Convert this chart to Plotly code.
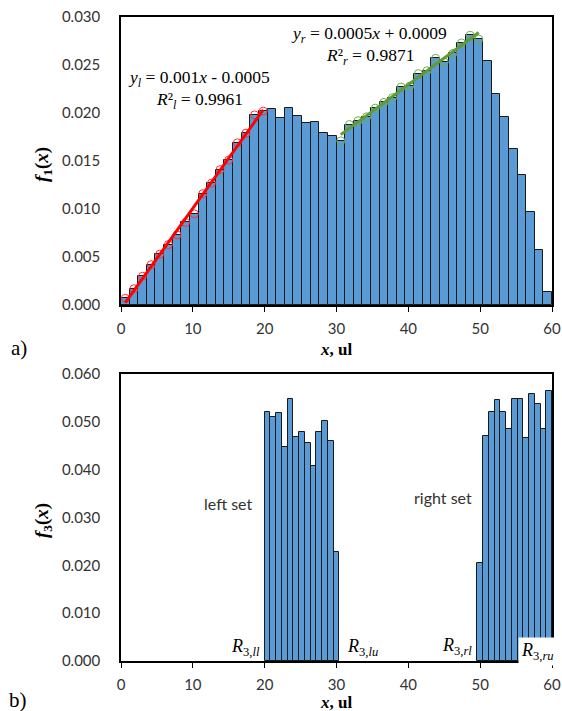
import numpy as np
import plotly.graph_objects as go

# ---------------- data ----------------
# top panel a): histogram f1(x), 50 bins of width 1.2 from 0 to 60
f1_bin_width = 1.2
f1_values = [0.0007, 0.0017, 0.0030, 0.0042, 0.0053, 0.0063, 0.0073, 0.0086, 0.0095, 0.0116,
             0.0127, 0.0141, 0.0151, 0.0169, 0.0179, 0.0198, 0.0202, 0.0204, 0.0195, 0.0205,
             0.0197, 0.0190, 0.0191, 0.0179, 0.0176, 0.0171, 0.0188, 0.0192, 0.0196, 0.0205,
             0.0211, 0.0216, 0.0227, 0.0228, 0.0241, 0.0244, 0.0257, 0.0253, 0.0262, 0.0273,
             0.0281, 0.0277, 0.0254, 0.0220, 0.0196, 0.0162, 0.0135, 0.0097, 0.0057, 0.0014]
left_fit_bins = (0, 17)     # bins used for left linear fit
right_fit_bins = (25, 42)   # bins used for right linear fit
eq_left = ["<i>y<sub>l</sub></i> = 0.001<i>x</i> - 0.0005", "<i>R</i>²<sub><i>l</i></sub> = 0.9961"]
eq_right = ["<i>y<sub>r</sub></i> = 0.0005<i>x</i> + 0.0009", "<i>R</i>²<sub><i>r</i></sub> = 0.9871"]

# bottom panel b): f3(x), bins of width 0.8
f3_bin_width = 0.8
f3_left_start = 20.0
f3_left_values = [0.0521, 0.0511, 0.0519, 0.0448, 0.0547, 0.0469, 0.0479, 0.0455, 0.0408,
                  0.0479, 0.0501, 0.0459, 0.0227]
f3_right_start = 49.6
f3_right_values = [0.0205, 0.0470, 0.0520, 0.0546, 0.0520, 0.0486, 0.0548, 0.0548, 0.0466,
                   0.0558, 0.0537, 0.0484, 0.0564]

x_ticks = [0, 10, 20, 30, 40, 50, 60]
f1_yticks = [0.000, 0.005, 0.010, 0.015, 0.020, 0.025, 0.030]
f3_yticks = [0.000, 0.010, 0.020, 0.030, 0.040, 0.050, 0.060]

# ---------------- derived ----------------
f1_centers = np.arange(len(f1_values)) * f1_bin_width + f1_bin_width / 2
f1_vals = np.array(f1_values)
lx = f1_centers[left_fit_bins[0]:left_fit_bins[1]]
ly = f1_vals[left_fit_bins[0]:left_fit_bins[1]]
rx = f1_centers[right_fit_bins[0]:right_fit_bins[1]]
ry = f1_vals[right_fit_bins[0]:right_fit_bins[1]]
lp = np.polyfit(lx, ly, 1)
rp = np.polyfit(rx, ry, 1)

f3_left_centers = f3_left_start + np.arange(len(f3_left_values)) * f3_bin_width + f3_bin_width / 2
f3_right_centers = f3_right_start + np.arange(len(f3_right_values)) * f3_bin_width + f3_bin_width / 2
f3_x = np.concatenate([f3_left_centers, f3_right_centers])
f3_y = f3_left_values + f3_right_values

BAR = "#5B9BD5"
W, H = 562, 711
ML, MR, MT, MB = 121, 10, 17, 50
PW, PH = W - ML - MR, H - MT - MB


def px(x):
    return (x - ML) / PW


def py(y):
    return (H - MB - y) / PH


fig = go.Figure()
fig.add_trace(go.Bar(x=f1_centers, y=f1_values, width=f1_bin_width,
                     marker=dict(color=BAR, line=dict(color="#1a1a1a", width=1)),
                     xaxis="x", yaxis="y", showlegend=False))
fig.add_trace(go.Scatter(x=lx, y=ly, mode="markers",
                         marker=dict(symbol="circle-open", size=8, color="#FF3030", line=dict(width=1)),
                         xaxis="x", yaxis="y", showlegend=False))
fig.add_trace(go.Scatter(x=rx, y=ry, mode="markers",
                         marker=dict(symbol="circle-open", size=8, color="#70AD47", line=dict(width=1)),
                         xaxis="x", yaxis="y", showlegend=False))
fig.add_trace(go.Scatter(x=[lx[0], lx[-1]], y=np.polyval(lp, [lx[0], lx[-1]]), mode="lines",
                         line=dict(color="#FF0000", width=3), xaxis="x", yaxis="y", showlegend=False))
fig.add_trace(go.Scatter(x=[rx[0], rx[-1]], y=np.polyval(rp, [rx[0], rx[-1]]), mode="lines",
                         line=dict(color="#5E9A35", width=3), xaxis="x", yaxis="y", showlegend=False))

fig.add_trace(go.Bar(x=f3_x, y=f3_y, width=f3_bin_width,
                     marker=dict(color=BAR, line=dict(color="#1a1a1a", width=1)),
                     xaxis="x2", yaxis="y2", showlegend=False))

tickfont = dict(family="Lato", size=15, color="#333333")
xcommon = dict(range=[0, 60], tickvals=x_ticks, ticks="outside", ticklen=5, tickwidth=1,
               tickcolor="black", showline=True, linewidth=2, linecolor="black", mirror=True,
               showgrid=False, zeroline=False, tickfont=tickfont, ticklabelstandoff=4,
               automargin=False)
ycommon = dict(ticks="", showline=True, linewidth=1.5, linecolor="black", mirror=True,
               showgrid=False, zeroline=False, tickfont=tickfont, ticklabelstandoff=16,
               automargin=False)

fig.update_layout(
    width=W, height=H,
    margin=dict(l=ML, r=MR, t=MT, b=MB, autoexpand=False),
    paper_bgcolor="white", plot_bgcolor="white",
    barmode="overlay", bargap=0,
    xaxis=dict(domain=[0, 1], anchor="y", **xcommon),
    yaxis=dict(domain=[py(305), 1], anchor="x", range=[0, 0.030], tickvals=f1_yticks,
               tickformat=".3f", **ycommon),
    xaxis2=dict(domain=[0, 1], anchor="y2", **xcommon),
    yaxis2=dict(domain=[0, py(374)], anchor="x2", range=[0, 0.060], tickvals=f3_yticks,
                tickformat=".3f", **ycommon),
)

serif = "Liberation Serif"
ann = []


def add(text, x, y, size=16, color="black", family=serif, angle=0, bg=None, pad=0):
    d = dict(text=text, x=px(x), y=py(y), xref="paper", yref="paper", showarrow=False,
             xanchor="center", yanchor="middle", textangle=angle,
             font=dict(family=family, size=size, color=color), borderpad=pad)
    if bg:
        d["bgcolor"] = bg
    ann.append(d)


add(eq_left[0], 199, 78, size=17.5)
add(eq_left[1], 199, 100, size=17.5)
add(eq_right[0], 369, 34, size=17.5)
add(eq_right[1], 370, 56, size=17.5)
add("<b><i>f</i><sub>1</sub>(<i>x</i>)</b>", 43, 165, size=19, angle=-90)
add("<b><i>f</i><sub>3</sub>(<i>x</i>)</b>", 43, 521, size=19, angle=-90)
add("<b><i>x</i>, ul</b>", 336, 349, size=17)
add("<b><i>x</i>, ul</b>", 336, 702, size=17)
add("a)", 19, 348, size=21)
add("b)", 18, 700, size=21)
add("left set", 228, 503, size=16, family="Lato", color="#333333")
add("right set", 443, 497, size=16, family="Lato", color="#333333")
add("<i>R</i><sub>3,<i>ll</i></sub>", 245, 647, size=18)
add("<i>R</i><sub>3,<i>lu</i></sub>", 362, 647, size=18)
add("<i>R</i><sub>3,<i>rl</i></sub>", 457, 646, size=18)
add("<i>R</i><sub>3,<i>ru</i></sub>", 537, 651, size=18, bg="white", pad=2)
fig.update_layout(annotations=ann)

fig.write_html("out.html")
